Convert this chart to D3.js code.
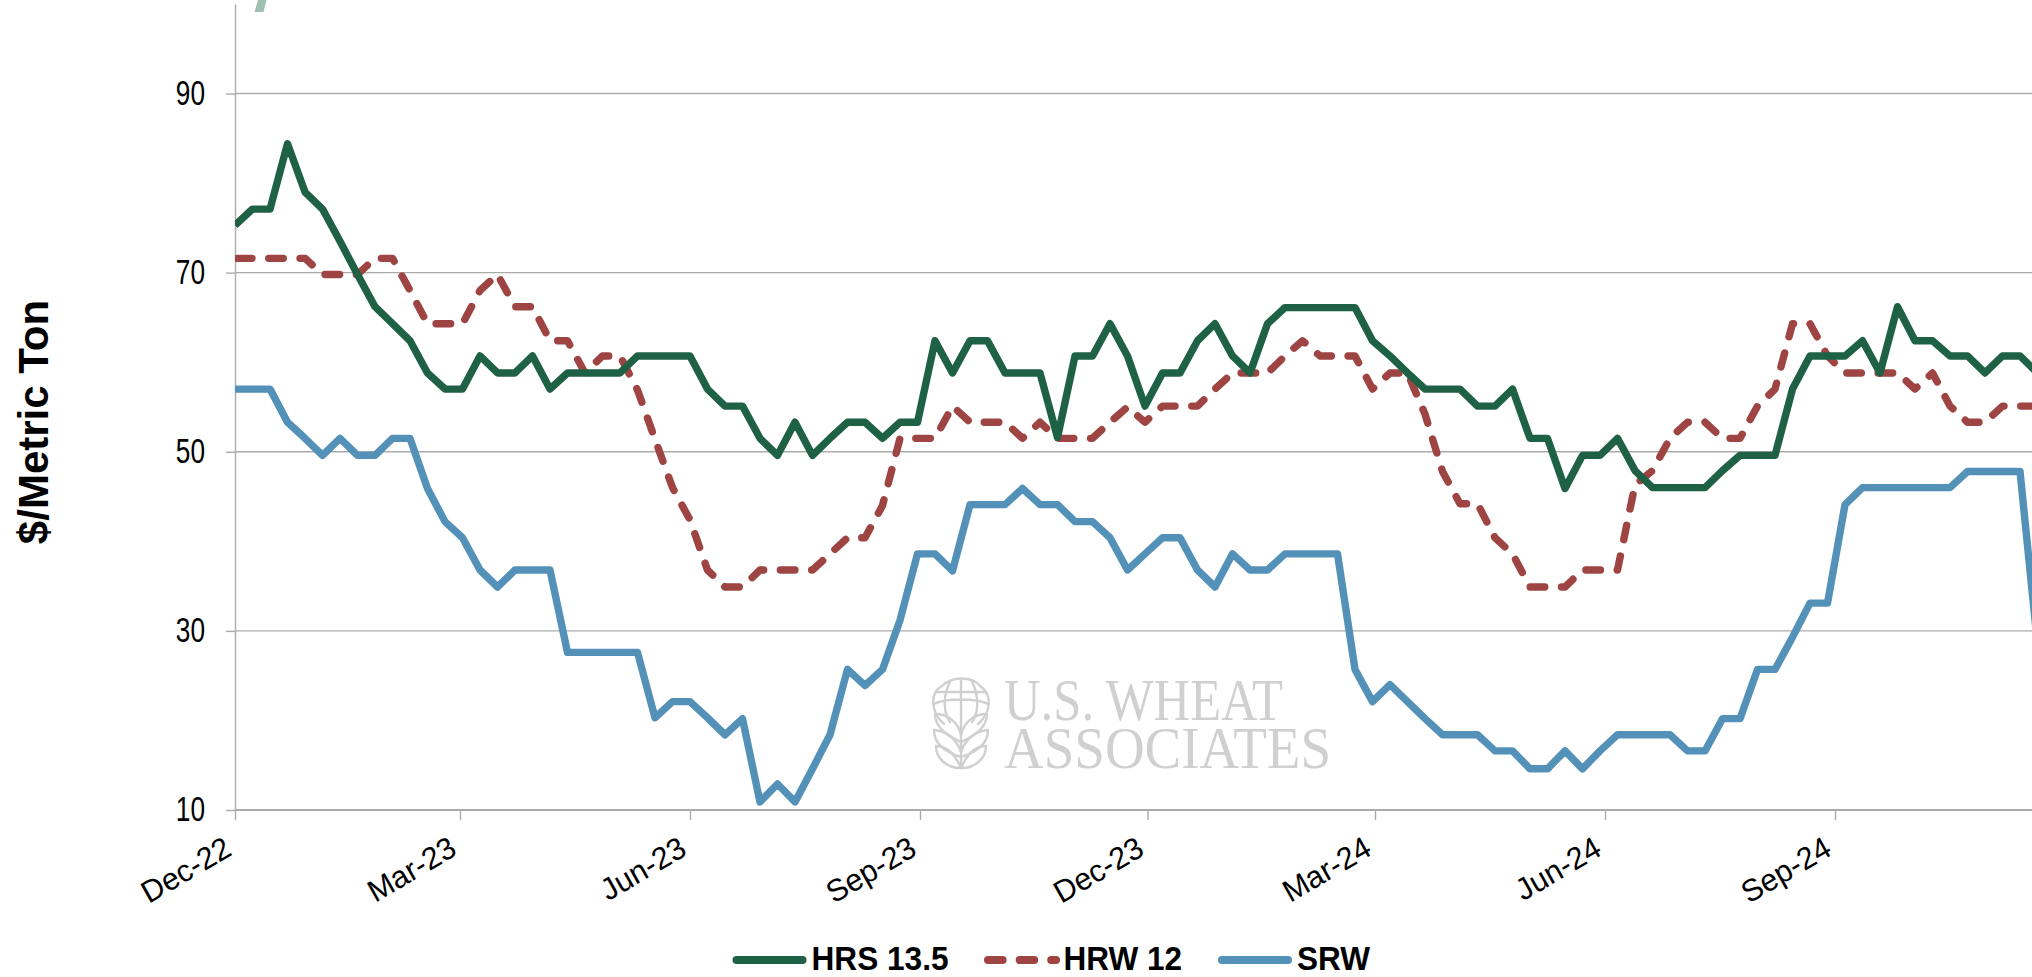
<!DOCTYPE html>
<html>
<head>
<meta charset="utf-8">
<script src="https://d3js.org/d3.v7.min.js"></script>
<style>
  html, body { margin: 0; padding: 0; background: #fff; overflow: hidden; }
  svg { display: block; }
  .y-axis text { font-family: "Liberation Sans", sans-serif; font-size: 35px; fill: #000; }
  .x-axis text { font-family: "Liberation Sans", sans-serif; font-size: 31px; fill: #000; }
  .axis-title { font-family: "Liberation Sans", sans-serif; font-size: 42px; font-weight: bold; fill: #000; }
  .legend-label { font-family: "Liberation Sans", sans-serif; font-size: 34px; font-weight: bold; fill: #000; }
  .watermark { font-family: "Liberation Serif", serif; font-size: 60px; fill: #d0d0d0; }
</style>
</head>
<body>
<div id="chart"></div>
<script>
// ================== DATOS ==================
// weekly quotes starting 1 Dec 2022, last point runs past the right edge
const hrs = [
  75.3, 77.1, 77.1, 84.4, 79.0, 77.1, 73.5, 69.8, 66.2, 64.3, 62.4, 58.8, 57.0, 57.0, 60.7, 58.8,
  58.8, 60.7, 57.0, 58.8, 58.8, 58.8, 58.8, 60.7, 60.7, 60.7, 60.7, 57.0, 55.1, 55.1, 51.5, 49.6,
  53.3, 49.6, 51.5, 53.3, 53.3, 51.5, 53.3, 53.3, 62.4, 58.8, 62.4, 62.4, 58.8, 58.8, 58.8, 51.6,
  60.7, 60.7, 64.3, 60.7, 55.1, 58.8, 58.8, 62.4, 64.3, 60.7, 58.8, 64.3, 66.1, 66.1, 66.1, 66.1,
  66.1, 62.4, 60.7, 58.8, 57.0, 57.0, 57.0, 55.1, 55.1, 57.0, 51.5, 51.5, 45.9, 49.6, 49.6, 51.5,
  47.9, 46.0, 46.0, 46.0, 46.0, 47.9, 49.6, 49.6, 49.6, 57.0, 60.7, 60.7, 60.7, 62.4, 58.8, 66.2,
  62.4, 62.4, 60.7, 60.7, 58.8, 60.7, 60.7, 58.8
];
const hrw = [
  71.6, 71.6, 71.6, 71.6, 71.6, 69.8, 69.8, 69.8, 71.6, 71.6, 68.0, 64.3, 64.3, 64.3, 68.0, 69.8,
  66.2, 66.2, 62.4, 62.4, 58.8, 60.7, 60.7, 56.9, 51.4, 46.0, 42.4, 36.8, 34.9, 34.9, 36.8, 36.8,
  36.8, 36.8, 38.6, 40.4, 40.4, 44.0, 51.5, 51.5, 51.5, 55.1, 53.3, 53.3, 53.3, 51.5, 53.3, 51.5,
  51.5, 51.5, 53.3, 55.0, 53.3, 55.1, 55.1, 55.1, 57.0, 58.8, 58.8, 58.8, 60.7, 62.4, 60.7, 60.7,
  60.7, 57.0, 58.8, 58.8, 54.2, 47.8, 44.2, 44.2, 40.4, 38.6, 34.9, 34.9, 34.9, 36.8, 36.8, 36.8,
  46.3, 47.9, 51.5, 53.3, 53.3, 51.5, 51.5, 55.1, 57.0, 64.3, 64.3, 60.7, 58.8, 58.8, 58.8, 58.8,
  57.0, 58.8, 55.1, 53.3, 53.3, 55.1, 55.1, 55.1
];
const srw = [
  57.0, 57.0, 57.0, 53.3, 51.5, 49.6, 51.5, 49.6, 49.6, 51.5, 51.5, 45.9, 42.2, 40.4, 36.8, 34.9,
  36.8, 36.8, 36.8, 27.6, 27.6, 27.6, 27.6, 27.6, 20.3, 22.1, 22.1, 20.3, 18.4, 20.2, 10.9, 12.9,
  10.9, 14.6, 18.4, 25.7, 23.9, 25.7, 31.2, 38.6, 38.6, 36.7, 44.1, 44.1, 44.1, 45.9, 44.1, 44.1,
  42.2, 42.2, 40.4, 36.8, 38.6, 40.4, 40.4, 36.8, 34.9, 38.6, 36.8, 36.8, 38.6, 38.6, 38.6, 38.6,
  25.7, 22.1, 24.0, 22.1, 20.2, 18.4, 18.4, 18.4, 16.6, 16.6, 14.6, 14.6, 16.6, 14.6, 16.6, 18.4,
  18.4, 18.4, 18.4, 16.6, 16.6, 20.2, 20.2, 25.7, 25.7, 29.3, 33.1, 33.1, 44.1, 46.0, 46.0, 46.0,
  46.0, 46.0, 46.0, 47.8, 47.8, 47.8, 47.8, 28.5
];
const yTicks = [10, 30, 50, 70, 90];
const xTickDates = ["2022-12-01", "2023-03-01", "2023-06-01", "2023-09-01", "2023-12-01", "2024-03-01", "2024-06-01", "2024-09-01"];
const seriesNames = ["HRS 13.5", "HRW 12", "SRW"];
const seriesColors = ["#1f6145", "#9e4442", "#5491b8"];

// ================== CONFIGURACIÓN D3 ==================
const svgWidth = 2032;
const svgHeight = 977;
const margin = { top: 4, left: 235, bottom: 167 };
const plotBottom = svgHeight - margin.bottom;

const svg = d3.select("#chart")
  .append("svg")
  .attr("width", svgWidth)
  .attr("height", svgHeight);

const startDate = new Date(Date.UTC(2022, 11, 1));
const dates = hrs.map((d, i) => d3.utcDay.offset(startDate, i * 7));
const pxPerDay = 2.5;

const xScale = d3.scaleUtc()
  .domain([startDate, dates[dates.length - 1]])
  .range([margin.left, margin.left + pxPerDay * 7 * (dates.length - 1)]);

const yScale = d3.scaleLinear()
  .domain([10, 100])
  .range([plotBottom, margin.top]);

svg.append("defs").append("clipPath")
  .attr("id", "plot-clip")
  .append("rect")
  .attr("x", margin.left)
  .attr("y", 0)
  .attr("width", svgWidth - margin.left)
  .attr("height", svgHeight);

// mancha verde que queda cortada arriba
svg.append("path")
  .attr("d", "M258,0L266.5,0L263.5,12L254.5,12Z")
  .attr("fill", "#9fbfb0");

// ================== GRID ==================
svg.append("g")
  .selectAll("line")
  .data(yTicks.filter(d => d !== 10))
  .join("line")
  .attr("x1", margin.left)
  .attr("x2", svgWidth)
  .attr("y1", d => yScale(d))
  .attr("y2", d => yScale(d))
  .attr("stroke", "#ababab")
  .attr("stroke-width", 1.4);

// ================== MARCA DE AGUA ==================
const mark = svg.append("g").attr("class", "watermark");
mark.append("text").attr("x", 1004).attr("y", 720).attr("textLength", 279).attr("lengthAdjust", "spacingAndGlyphs").text("U.S. WHEAT");
mark.append("text").attr("x", 1004).attr("y", 768).attr("textLength", 327).attr("lengthAdjust", "spacingAndGlyphs").text("ASSOCIATES");

const logo = svg.append("g")
  .attr("fill", "none")
  .attr("stroke", "#d0d0d0")
  .attr("stroke-width", 2.4)
  .attr("stroke-linejoin", "round")
  .attr("stroke-linecap", "round");
logo.append("path").attr("d", "M944,724C930,712 930,692 942,686C952,676 972,676 980,686C992,694 992,712 978,724");
logo.append("path").attr("d", "M961,679V768M950,682C943,695 943,712 950,722M972,682C979,695 979,712 972,722M936,692H986M934,704C945,698 977,698 988,704");
logo.append("path").attr("d", "M961,735C958,722 948,714 935,714C935,726 945,735 961,742M961,735C964,722 974,714 987,714C987,726 977,735 961,742");
logo.append("path").attr("d", "M961,752C956,738 946,731 934,730C934,744 945,752 961,757M961,752C966,738 976,731 988,730C988,744 977,752 961,757");
logo.append("path").attr("d", "M961,768C954,752 946,746 936,746C936,758 946,768 961,768M961,768C968,752 976,746 986,746C986,758 976,768 961,768");

// ================== EJES ==================
const yLabelScale = 0.75;

svg.append("g")
  .attr("class", "y-axis")
  .attr("transform", `translate(${margin.left},0)`)
  .call(d3.axisLeft(yScale).tickValues(yTicks).tickSize(9).tickPadding(21).tickSizeOuter(0))
  .call(g => g.select(".domain").attr("stroke", "#ababab").attr("stroke-width", 1.4))
  .call(g => g.selectAll(".tick line").attr("stroke", "#ababab").attr("stroke-width", 1.4))
  .call(g => g.selectAll(".tick text")
    .attr("dy", "0.3em")
    .attr("x", -30 / yLabelScale)
    .attr("transform", `scale(${yLabelScale},1)`));

svg.append("g")
  .attr("class", "x-axis")
  .attr("transform", `translate(0,${plotBottom})`)
  .call(d3.axisBottom(xScale)
    .tickValues(xTickDates.map(d => new Date(d + "T00:00:00Z")))
    .tickFormat(d3.utcFormat("%b-%y"))
    .tickSize(10)
    .tickSizeOuter(0))
  .call(g => g.select(".domain").remove())
  .call(g => g.selectAll(".tick line").attr("stroke", "#ababab").attr("stroke-width", 1.4))
  .call(g => g.selectAll(".tick text")
    .attr("text-anchor", "end")
    .attr("y", 0)
    .attr("dy", 0)
    .attr("transform", "translate(-2,44) scale(0.98,1) rotate(-30)"));

svg.append("line")
  .attr("x1", margin.left)
  .attr("x2", svgWidth)
  .attr("y1", plotBottom)
  .attr("y2", plotBottom)
  .attr("stroke", "#ababab")
  .attr("stroke-width", 2);

svg.append("text")
  .attr("class", "axis-title")
  .attr("text-anchor", "middle")
  .attr("transform", "translate(48,422) rotate(-90)")
  .text("$/Metric Ton");

// ================== LÍNEAS ==================
const line = d3.line()
  .x((d, i) => xScale(dates[i]))
  .y(d => yScale(d));

svg.append("g")
  .attr("clip-path", "url(#plot-clip)")
  .selectAll("path")
  .data([srw, hrw, hrs])
  .join("path")
  .attr("d", line)
  .attr("fill", "none")
  .attr("stroke-width", 7.4)
  .attr("stroke-linejoin", "round")
  .attr("stroke", (d, i) => seriesColors[2 - i])
  .attr("stroke-linecap", d => d === hrw ? "round" : "butt")
  .attr("stroke-dasharray", d => d === hrw ? "14.6 16.7" : null)
  .attr("stroke-dashoffset", d => d === hrw ? 28.9 : null);

// ================== LEYENDA ==================
const legendKeys = [[736.5, 802.5], [988, 1056], [1222, 1288]];
const legendLabelX = [811.5, 1063.5, 1297];
const legendLabelWidth = [137, 118.5, 73];
const legend = svg.append("g");

seriesNames.forEach((name, i) => {
  legend.append("line")
    .attr("x1", legendKeys[i][0])
    .attr("x2", legendKeys[i][1])
    .attr("y1", 960)
    .attr("y2", 960)
    .attr("stroke", seriesColors[i])
    .attr("stroke-width", 8)
    .attr("stroke-linecap", "round")
    .attr("stroke-dasharray", i === 1 ? "14.6 17" : null);
  legend.append("text")
    .attr("class", "legend-label")
    .attr("x", legendLabelX[i])
    .attr("y", 970)
    .attr("textLength", legendLabelWidth[i])
    .attr("lengthAdjust", "spacingAndGlyphs")
    .text(name);
});
</script>
</body>
</html>
